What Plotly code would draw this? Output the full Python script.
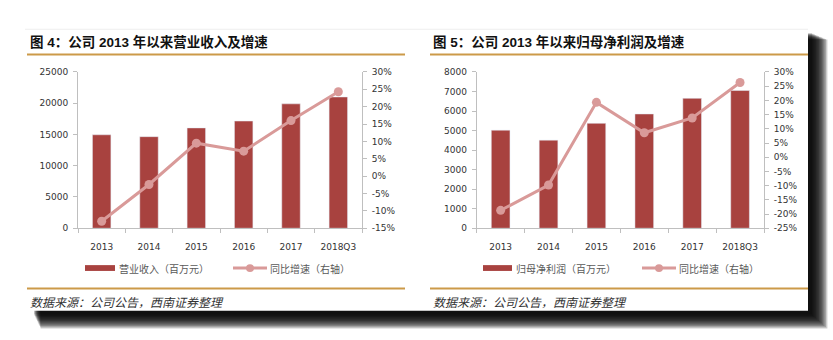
import plotly.graph_objects as go

W, H = 833, 340

categories = ["2013", "2014", "2015", "2016", "2017", "2018Q3"]
revenue = [14950, 14650, 16050, 17150, 19900, 21000]          # 营业收入（百万元）
revenue_growth = [-13.0, -2.4, 9.5, 7.2, 16.0, 24.3]           # 同比增速 %
profit = [5020, 4510, 5370, 5850, 6650, 7050]                  # 归母净利润（百万元）
profit_growth = [-18.7, -9.8, 19.3, 8.6, 13.8, 26.3]           # 同比增速 %

rev_ticks = [0, 5000, 10000, 15000, 20000, 25000]
rev_pct_ticks = [-15, -10, -5, 0, 5, 10, 15, 20, 25, 30]
prof_ticks = [0, 1000, 2000, 3000, 4000, 5000, 6000, 7000, 8000]
prof_pct_ticks = [-25, -20, -15, -10, -5, 0, 5, 10, 15, 20, 25, 30]

title_left = "图 4：公司 2013 年以来营业收入及增速"
title_right = "图 5：公司 2013 年以来归母净利润及增速"
legend_left = ["营业收入（百万元）", "同比增速（右轴）"]
legend_right = ["归母净利润（百万元）", "同比增速（右轴）"]
source_text = "数据来源：公司公告，西南证券整理"

BAR = "#A8423F"
LINE = "#D99A99"
GOLD = "#CC9A48"
AXIS = "#BFBFBF"
TXT = "#333333"
CJK = "Liberation Sans, Noto Sans CJK SC"
NUM = "DejaVu Sans"


def px(x):
    return x / W


def py(y):
    return 1 - y / H


def pct_labels(vals):
    return [f"{v}%" for v in vals]


fig = go.Figure()
fig.add_trace(go.Bar(x=categories, y=revenue, marker_color=BAR, xaxis="x", yaxis="y",
                     showlegend=False, hoverinfo="skip"))
fig.add_trace(go.Scatter(x=categories, y=revenue_growth, mode="lines+markers",
                         line=dict(color=LINE, width=3), marker=dict(size=9, color=LINE),
                         xaxis="x", yaxis="y2", showlegend=False, hoverinfo="skip"))
fig.add_trace(go.Bar(x=categories, y=profit, marker_color=BAR, xaxis="x2", yaxis="y3",
                     showlegend=False, hoverinfo="skip"))
fig.add_trace(go.Scatter(x=categories, y=profit_growth, mode="lines+markers",
                         line=dict(color=LINE, width=3), marker=dict(size=9, color=LINE),
                         xaxis="x2", yaxis="y4", showlegend=False, hoverinfo="skip"))

tickfont = dict(family=NUM, size=9, color=TXT)
ydom = [py(230), py(69)]

common_x = dict(type="category", showline=True, linecolor=AXIS, linewidth=1,
                ticks="outside", tickson="boundaries", ticklen=4, tickcolor=AXIS,
                tickfont=tickfont, showgrid=False, zeroline=False, fixedrange=True,
                ticklabelstandoff=10)
common_y = dict(showline=True, linecolor=AXIS, linewidth=1, ticks="outside", ticklen=4,
                tickcolor=AXIS, tickfont=tickfont, showgrid=False, zeroline=False,
                fixedrange=True, tickmode="array", ticklabelstandoff=3)

fig.update_layout(
    width=W, height=H,
    margin=dict(l=0, r=0, t=0, b=0),
    paper_bgcolor="white", plot_bgcolor="rgba(0,0,0,0)",
    bargap=0.61,
    xaxis=dict(domain=[px(78), px(362)], anchor="y", **common_x),
    yaxis=dict(domain=ydom, anchor="x", range=[0, 25000], side="left",
               tickvals=rev_ticks, ticktext=[str(v) for v in rev_ticks], **common_y),
    yaxis2=dict(overlaying="y", anchor="x", side="right", range=[-15, 30],
                tickvals=rev_pct_ticks, ticktext=pct_labels(rev_pct_ticks), **common_y),
    xaxis2=dict(domain=[px(476.7), px(764)], anchor="y3", **common_x),
    yaxis3=dict(domain=ydom, anchor="x2", range=[0, 8000], side="left",
                tickvals=prof_ticks, ticktext=[str(v) for v in prof_ticks], **common_y),
    yaxis4=dict(overlaying="y3", anchor="x2", side="right", range=[-25, 30],
                tickvals=prof_pct_ticks, ticktext=pct_labels(prof_pct_ticks), **common_y),
)

shapes = []
# drop shadow of the card
for k in range(12):
    shapes.append(dict(type="rect", xref="paper", yref="paper", layer="below",
                       x0=px(34 + k * 0.6), x1=px(812 + k * 1.4),
                       y0=py(319 + k * 1.3), y1=py(29 + k * 0.6),
                       fillcolor="rgba(0,0,0,0.2)", line=dict(width=0)))
# white card
shapes.append(dict(type="rect", xref="paper", yref="paper", layer="below",
                   x0=px(25), x1=px(808), y0=py(315), y1=py(25),
                   fillcolor="white", line=dict(width=0)))
shapes.append(dict(type="line", xref="paper", yref="paper", layer="below",
                   x0=px(25), x1=px(808), y0=py(25), y1=py(25),
                   line=dict(color="#EEEEEE", width=1)))
# gold rules
for (a, b) in [(27, 405), (430, 808)]:
    for yy in (51, 292):
        shapes.append(dict(type="line", xref="paper", yref="paper",
                           x0=px(a), x1=px(b), y0=py(yy), y1=py(yy),
                           line=dict(color=GOLD, width=2)))

annotations = []
for x0, t in [(28, title_left), (431, title_right)]:
    annotations.append(dict(xref="paper", yref="paper", x=px(x0), y=py(38), xanchor="left",
                            yanchor="middle", showarrow=False, text="<b>" + t + "</b>",
                            font=dict(family=CJK, size=13.5, color="#111111")))
    annotations.append(dict(xref="paper", yref="paper", x=px(x0), y=py(305), xanchor="left",
                            yanchor="middle", showarrow=False, text="<i>" + source_text + "</i>",
                            font=dict(family="Noto Sans CJK SC", size=12, color="#333333")))

# legends
legend_y = 271
for (bx0, bx1, tx1, lx0, lx1, tx2, labels) in [
        (85, 115, 117, 233, 267, 268, legend_left),
        (483, 512, 514, 642, 676, 677, legend_right)]:
    shapes.append(dict(type="rect", xref="paper", yref="paper",
                       x0=px(bx0), x1=px(bx1), y0=py(legend_y + 3), y1=py(legend_y - 3),
                       fillcolor=BAR, line=dict(width=0)))
    shapes.append(dict(type="line", xref="paper", yref="paper",
                       x0=px(lx0), x1=px(lx1), y0=py(legend_y), y1=py(legend_y),
                       line=dict(color=LINE, width=3)))
    cx = (lx0 + lx1) / 2
    shapes.append(dict(type="circle", xref="paper", yref="paper",
                       x0=px(cx - 4), x1=px(cx + 4), y0=py(legend_y + 4), y1=py(legend_y - 4),
                       fillcolor=LINE, line=dict(width=0)))
    annotations.append(dict(xref="paper", yref="paper", x=px(tx1), y=py(legend_y),
                            xanchor="left", yanchor="middle", showarrow=False, text=labels[0],
                            font=dict(family="Noto Sans CJK SC", size=10, color="#595959")))
    annotations.append(dict(xref="paper", yref="paper", x=px(tx2), y=py(legend_y),
                            xanchor="left", yanchor="middle", showarrow=False, text=labels[1],
                            font=dict(family="Noto Sans CJK SC", size=10, color="#595959")))

fig.update_layout(shapes=shapes, annotations=annotations)
fig.write_html("out.html")
